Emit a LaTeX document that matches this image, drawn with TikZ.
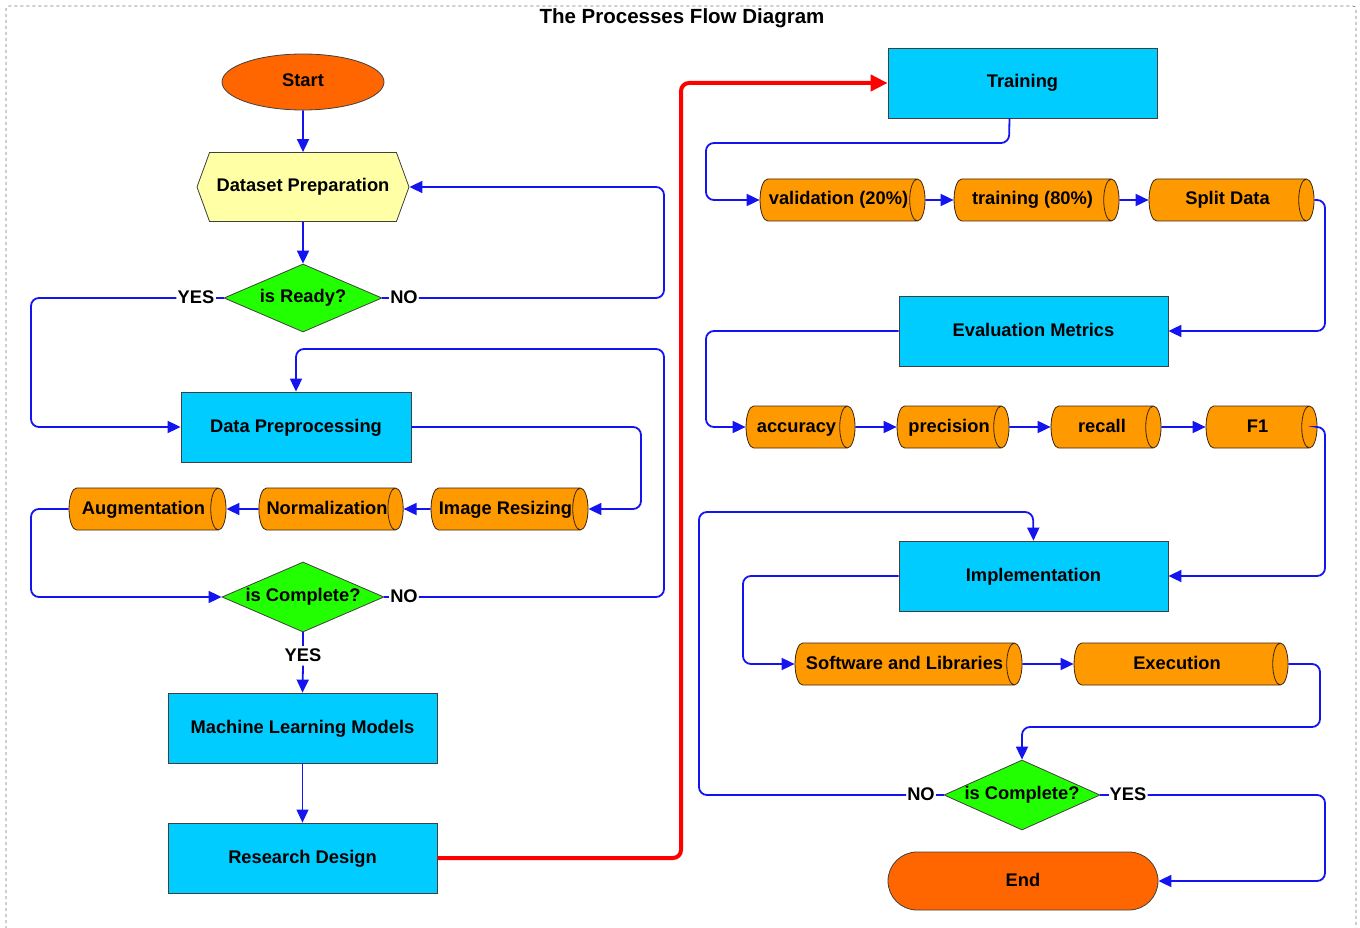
\documentclass[tikz,border=0pt]{standalone}
\usepackage{fontspec}
\setmainfont{Liberation Sans}
\usetikzlibrary{shapes.geometric,shapes.symbols,shapes.misc,arrows.meta}
\definecolor{procblue}{HTML}{00CCFF}
\definecolor{termorange}{HTML}{FF6600}
\definecolor{cylorange}{HTML}{FF9900}
\definecolor{decgreen}{HTML}{22FF00}
\definecolor{hexyellow}{HTML}{FFFFA6}
\definecolor{linkblue}{HTML}{1414F0}
\definecolor{linkred}{HTML}{FF0000}
\begin{document}
\begin{tikzpicture}[x=1pt,y=-1pt,
  font=\fontsize{18.3}{21}\selectfont\bfseries,
  base/.style={draw=black!75, line width=0.8pt, inner sep=0pt, text height=13.5pt, text depth=3.5pt},
  procbox/.style={base, rectangle, fill=procblue, minimum width=269, minimum height=70},
  cyl/.style={base, cylinder, shape border rotate=0, aspect=0.9, fill=cylorange, draw=black!70!brown, minimum width=42},
  dec/.style={base, diamond, fill=decgreen, aspect=2.3, minimum width=158, minimum height=68},
  lbl/.style={inner sep=1pt, text height=13.5pt, text depth=3.5pt},
  link/.style={draw=linkblue, line width=1.8pt, rounded corners=8, -{Triangle[length=13pt,width=12pt]}},
  plain/.style={draw=linkblue, line width=1.8pt, rounded corners=8},
  redlink/.style={draw=linkred, line width=4pt, rounded corners=8, -{Triangle[length=17pt,width=16pt]}},
]
\useasboundingbox (0,0) rectangle (1360,928);
\draw[black!55, dashed, line width=0.7pt, rounded corners=3] (6,935) -- (6,6) -- (1356,6) -- (1356,935);
\node[font=\fontsize{20.5}{24}\selectfont\bfseries] (title) at (682,18) {The Processes Flow Diagram};

% left column
\node[base, ellipse, fill=termorange, minimum width=162, minimum height=56] (start) at (303,82) {Start};
\node[base, signal, signal to=east and west, signal pointer angle=140, fill=hexyellow, minimum width=212, minimum height=69] (prep) at (303,187) {Dataset Preparation};
\node[dec, label=center:{is Ready?}] (ready) at (303,298) {};
\node[procbox, minimum width=230] (dpre) at (296,427) {Data Preprocessing};
\node[cyl, minimum height=157] (aug) at (143.5,509) {Augmentation};
\node[cyl, minimum height=138] (norm) at (327,509) {Normalization};
\node[cyl, minimum height=157] (resize) at (505.5,509) {Image Resizing};
\node[dec, minimum width=162, minimum height=70, label=center:{is Complete?}] (comp1) at (303,597) {};
\node[procbox] (ml) at (302.5,728) {Machine Learning Models};
\node[procbox] (rd) at (302.5,858) {Research Design};

% right column
\node[procbox] (train) at (1022.5,83) {Training};
\node[cyl, minimum height=165] (val) at (838.5,200) {validation (20\%)};
\node[cyl, minimum height=165] (tr) at (1032.5,200) {training (80\%)};
\node[cyl, minimum height=165] (split) at (1227.5,200) {Split Data};
\node[procbox] (eval) at (1033.5,331) {Evaluation Metrics};
\node[cyl, minimum height=109] (acc) at (796.5,427) {accuracy};
\node[cyl, minimum height=112] (prec) at (949,427) {precision};
\node[cyl, minimum height=110] (rec) at (1102,427) {recall};
\node[cyl, minimum height=111] (f1) at (1257.5,427) {F1};
\node[procbox] (impl) at (1033.5,576) {Implementation};
\node[cyl, minimum height=227] (soft) at (904.5,664) {Software and Libraries};
\node[cyl, minimum height=214] (exec) at (1177,664) {Execution};
\node[dec, minimum width=156, minimum height=70, label=center:{is Complete?}] (comp2) at (1022,795) {};
\node[base, rounded rectangle, fill=termorange, minimum width=270, minimum height=58] (end) at (1023,881) {End};

% labels
\node[lbl] (yes1) at (196,298) {YES};
\node[lbl] (no1) at (404,298) {NO};
\node[lbl] (no2) at (404,597) {NO};
\node[lbl] (yes2) at (303,656) {YES};
\node[lbl] (no3) at (921,795) {NO};
\node[lbl] (yes3) at (1128,795) {YES};

% left connectors
\draw[link] (start) -- (prep);
\draw[link] (prep) -- (ready);
\draw[plain] (ready.east) -- (no1.west);
\draw[link] (no1.east) -- (664,298) |- (prep.east);
\draw[plain] (ready.west) -- (yes1.east);
\draw[link] (yes1.west) -- (31,298) |- (dpre.west);
\draw[link] (dpre.east) -- (641,427) |- (resize.east);
\draw[link] (resize.west) -- (norm.east);
\draw[link] (norm.west) -- (aug.east);
\draw[link] (aug.west) -- (31,509) |- (comp1.west);
\draw[plain] (comp1.east) -- (no2.west);
\draw[link] (no2.east) -- (664,597) -- (664,349) -| (dpre.north);
\draw[plain] (comp1.south) -- (yes2.north);
\draw[link] (yes2.south) -- (ml.north);
\draw[link, line width=1pt] (ml) -- (rd);
\draw[redlink] (rd.east) -- (681,858) |- (train.west);

% right connectors
\draw[link] ([xshift=-13pt]train.south) -- (1009,143) -- (706,143) |- (val.west);
\draw[link] (val.east) -- (tr.west);
\draw[link] (tr.east) -- (split.west);
\draw[link] (split.east) -- (1325,200) |- (eval.east);
\draw[link] (eval.west) -- (706,331) |- (acc.west);
\draw[link] (acc.east) -- (prec.west);
\draw[link] (prec.east) -- (rec.west);
\draw[link] (rec.east) -- (f1.west);
\draw[link] (f1.east) -- (1325,427) |- (impl.east);
\draw[link] (impl.west) -- (743,576) |- (soft.west);
\draw[link] (soft.east) -- (exec.west);
\draw[link] (exec.east) -- (1320,664) |- (1022,727) -- (comp2.north);
\draw[plain] (comp2.west) -- (no3.east);
\draw[link] (no3.west) -- (699,795) |- (1033,512) -- (impl.north);
\draw[plain] (comp2.east) -- (yes3.west);
\draw[link] (yes3.east) -- (1325,795) |- (end.east);
\end{tikzpicture}
\end{document}
